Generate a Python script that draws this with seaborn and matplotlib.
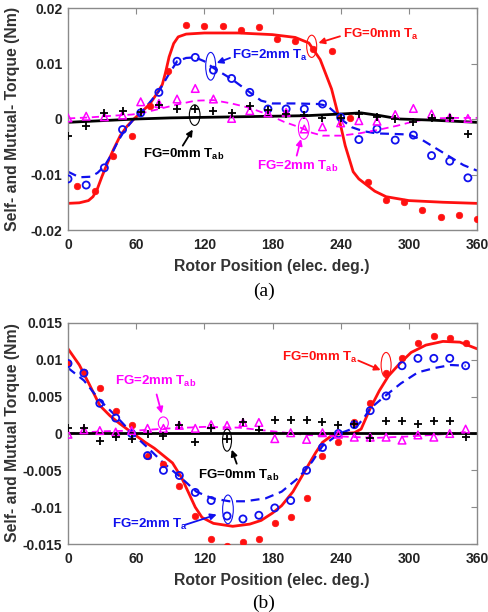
"""
Self- and mutual-torque vs rotor position, FG=0mm and FG=2mm.
Two stacked panels: (a) and (b).
"""

import matplotlib
matplotlib.use("Agg")
import matplotlib.pyplot as plt
from matplotlib.patches import Ellipse
from matplotlib.ticker import FixedLocator, FixedFormatter
import seaborn as sns

# ---------------- panel (a): measured points ----------------
A_POS_EVEN = [0, 16, 32, 48, 64, 80, 96, 112, 128, 144, 160, 176, 192, 208, 224,
              240, 256, 272, 288, 304, 320, 336, 352]
A_POS_ODD = [8, 24, 40, 56, 72, 88, 104, 120, 136, 152, 168, 184, 200, 216, 232,
             248, 264, 280, 296, 312, 328, 344, 360]
A_TA0_MEAS = [-0.0120, -0.0130, -0.0066, -0.0030, 0.0024, 0.0087, 0.0170, 0.0168,
              0.0168, 0.0161, 0.0165, 0.0144, 0.0140, 0.0126, 0.0122, 0.0001,
              -0.0114, -0.0146, -0.0150, -0.0164, -0.0177, -0.0173, -0.0180]
A_TA2_MEAS = [-0.0108, -0.0119, -0.0088, -0.0019, 0.0011, 0.0048, 0.0104, 0.0111,
              0.0088, 0.0073, 0.0048, 0.0018, 0.0018, 0.0018, 0.0027, 0.0003,
              -0.0037, -0.0018, -0.0038, -0.0029, -0.0066, -0.0076, -0.0106]
A_TAB2_MEAS = [0.0002, 0.0005, 0.0004, 0.0007, 0.0031, 0.0028, 0.0036, 0.0055,
               0.0036, 0.0001, 0.0015, 0.0011, 0.0012, -0.0018, -0.0014, -0.0007,
               -0.0003, -0.0004, 0.0008, 0.0019, 0.0009, 0.0003, 0.0001]
A_TAB0_MEAS = [-0.0030, -0.0012, 0.0011, 0.0014, 0.0012, 0.0025, 0.0018, 0.0018,
               0.0015, 0.0010, 0.0023, 0.0016, 0.0009, 0.0008, 0.0001, 0.0002,
               0.0009, 0.0003, 0.0000, -0.0006, 0.0001, 0.0002, -0.0027]

# ---------------- panel (a): simulated curves ----------------
A_TA0_X = [0, 10, 18, 22, 26, 30, 35, 40, 46, 52, 58, 65, 72, 78, 83, 86, 89, 93,
           97, 104, 120, 150, 180, 200, 212, 222, 232, 238, 244, 251, 256, 263,
           270, 280, 300, 330, 360]
A_TA0_Y = [-0.0152, -0.0151, -0.0147, -0.0140, -0.0125, -0.0103, -0.0078, -0.0055,
           -0.0030, -0.0013, 0.0000, 0.0013, 0.0027, 0.0045, 0.0062, 0.0085, 0.0112,
           0.0136, 0.0148, 0.0153, 0.0155, 0.0155, 0.0152, 0.0147, 0.0137, 0.0107,
           0.0054, 0.0006, -0.0048, -0.0095, -0.0108, -0.0119, -0.0130, -0.0140,
           -0.0147, -0.0150, -0.0152]
A_TA2_X = [0, 10, 20, 26, 32, 38, 44, 50, 58, 66, 74, 80, 88, 96, 104, 112, 120,
           128, 144, 160, 170, 180, 200, 220, 228, 236, 242, 250, 260, 272, 288,
           300, 312, 324, 336, 348, 360]
A_TA2_Y = [-0.0095, -0.0105, -0.0104, -0.0097, -0.0085, -0.0065, -0.0040, -0.0020,
           0.0000, 0.0015, 0.0035, 0.0050, 0.0078, 0.0104, 0.0110, 0.0111, 0.0104,
           0.0092, 0.0072, 0.0048, 0.0033, 0.0028, 0.0028, 0.0027, 0.0024, 0.0010,
           -0.0003, -0.0015, -0.0022, -0.0026, -0.0027, -0.0028, -0.0038, -0.0053,
           -0.0068, -0.0083, -0.0093]
A_TAB2_X = [0, 20, 40, 56, 64, 80, 96, 112, 128, 144, 160, 176, 190, 204, 215, 224,
            240, 256, 272, 290, 305, 320, 340, 360]
A_TAB2_Y = [0.0001, 0.0003, 0.0006, 0.0008, 0.0010, 0.0018, 0.0026, 0.0033, 0.0034,
            0.0028, 0.0020, 0.0008, -0.0005, -0.0015, -0.0025, -0.0030, -0.0030,
            -0.0026, -0.0020, -0.0012, -0.0004, 0.0001, 0.0002, 0.0002]
A_TAB0_X = [0, 30, 60, 90, 120, 150, 180, 210, 240, 258, 275, 292, 320, 360]
A_TAB0_Y = [-0.0006, -0.0003, 0.0000, 0.0002, 0.0003, 0.0004, 0.0005, 0.0006,
            0.0009, 0.0011, 0.0006, 0.0000, -0.0002, -0.0006]

# ---------------- panel (b): measured points ----------------
B_POS = [0, 14, 28, 42, 56, 70, 84, 98, 112, 126, 140, 154, 168, 182, 196, 210,
         224, 238, 252, 266, 280, 294, 308, 322, 336, 350]
B_TA0_MEAS = [0.0096, 0.0083, 0.0062, 0.0031, 0.0012, -0.0030, -0.0041, -0.0071,
              -0.0112, -0.0143, -0.0153, -0.0147, -0.0143, -0.0121, -0.0114, -0.0087,
              -0.0031, -0.0011, 0.0016, 0.0042, 0.0082, 0.0102, 0.0123, 0.0133,
              0.0129, 0.0123]
B_TA2_MEAS = [0.0095, 0.0082, 0.0041, 0.0021, 0.0000, -0.0030, -0.0050, -0.0057,
              -0.0080, -0.0091, -0.0112, -0.0116, -0.0111, -0.0101, -0.0091, -0.0050,
              -0.0019, 0.0000, 0.0012, 0.0031, 0.0051, 0.0092, 0.0102, 0.0102,
              0.0102, 0.0092]
B_TAB0_MEAS = [0.0008, 0.0007, -0.0010, -0.0005, -0.0008, 0.0000, -0.0004, 0.0012,
               -0.0012, 0.0007, -0.0008, 0.0016, 0.0005, 0.0019, 0.0018, 0.0018,
               0.0016, 0.0011, 0.0013, -0.0006, 0.0017, 0.0017, 0.0013, 0.0017,
               0.0017, -0.0005]
B_TAB2_MEAS = [-0.0001, 0.0005, 0.0004, 0.0002, 0.0004, 0.0007, 0.0007, 0.0011,
               0.0007, 0.0012, 0.0011, 0.0015, 0.0015, -0.0007, 0.0001, -0.0008,
               0.0001, -0.0001, -0.0005, -0.0005, -0.0005, -0.0009, -0.0002, -0.0005,
               0.0000, 0.0006]

# ---------------- panel (b): simulated curves ----------------
B_TA0_X = [0, 10, 19, 28, 37, 45, 52, 60, 68, 76, 84, 92, 100, 106, 112, 118, 128,
           145, 160, 170, 180, 188, 198, 210, 218, 224, 232, 240, 252, 258, 266,
           274, 282, 292, 302, 315, 330, 345, 360]
B_TA0_Y = [0.0115, 0.0093, 0.0066, 0.0038, 0.0024, 0.0014, 0.0006, -0.0003, -0.0012,
           -0.0020, -0.0030, -0.0040, -0.0060, -0.0080, -0.0100, -0.0114, -0.0122,
           -0.0126, -0.0123, -0.0118, -0.0108, -0.0098, -0.0079, -0.0047, -0.0026,
           -0.0012, -0.0003, 0.0000, 0.0001, 0.0006, 0.0034, 0.0058, 0.0078, 0.0095,
           0.0110, 0.0120, 0.0125, 0.0124, 0.0115]
B_TA2_X = [0, 14, 28, 42, 56, 70, 84, 98, 113, 127, 142, 156, 174, 188, 203, 215,
           224, 231, 239, 253, 260, 266, 280, 293, 308, 323, 337, 350]
B_TA2_Y = [0.0089, 0.0072, 0.0045, 0.0024, 0.0001, -0.0019, -0.0040, -0.0058,
           -0.0079, -0.0088, -0.0092, -0.0092, -0.0088, -0.0079, -0.0060, -0.0038,
           -0.0017, -0.0009, 0.0000, 0.0008, 0.0020, 0.0034, 0.0052, 0.0068, 0.0083,
           0.0089, 0.0093, 0.0092]
B_TAB2_X = [0, 30, 60, 90, 120, 150, 180, 210, 240, 270, 300, 330, 350]
B_TAB2_Y = [0.0000, 0.0003, 0.0004, 0.0007, 0.0009, 0.0008, 0.0003, -0.0002,
            -0.0004, -0.0006, -0.0004, -0.0001, 0.0002]
B_TAB0_X = [0, 60, 120, 180, 240, 300, 360]
B_TAB0_Y = [0.0001, 0.0001, 0.0001, 0.0001, 0.0001, 0.0001, 0.0001]

# ---------------- axis ticks ----------------
X_TICKS = [0, 60, 120, 180, 240, 300, 360]
A_Y_TICKS = [-0.02, -0.01, 0, 0.01, 0.02]
A_Y_LABELS = ["-0.02", "-0.01", "0", "0.01", "0.02"]
B_Y_TICKS = [-0.015, -0.01, -0.005, 0, 0.005, 0.01, 0.015]
B_Y_LABELS = ["-0.015", "-0.01", "-0.005", "0", "0.005", "0.01", "0.015"]

RED = "#ff1010"
BLUE = "#1010ee"
MAGENTA = "#ff00ff"
BLACK = "#000000"
FRAME = "#8a8a8a"

W, H = 488, 612

sns.set_theme(style="white")
plt.rcParams["font.family"] = ["Liberation Sans", "DejaVu Sans"]
plt.rcParams["font.weight"] = "bold"
plt.rcParams["mathtext.fontset"] = "custom"
plt.rcParams["mathtext.bf"] = "Liberation Sans:bold"
plt.rcParams["mathtext.rm"] = "Liberation Sans:bold"


def px_rect(left, top, right, bottom):
    return [left / W, 1 - bottom / H, (right - left) / W, (bottom - top) / H]


def style_axes(ax, yticks, ylabels, ylim):
    ax.set_xlim(0, 360)
    ax.set_ylim(*ylim)
    ax.xaxis.set_major_locator(FixedLocator(X_TICKS))
    ax.xaxis.set_major_formatter(FixedFormatter([str(t) for t in X_TICKS]))
    ax.yaxis.set_major_locator(FixedLocator(yticks))
    ax.yaxis.set_major_formatter(FixedFormatter(ylabels))
    ax.tick_params(axis="both", direction="in", length=4, width=0.8, color=FRAME,
                   labelsize=10, top=True, right=True, labelcolor="#222222")
    ax.tick_params(axis="x", pad=6)
    ax.tick_params(axis="y", pad=4)
    for lab in ax.get_xticklabels() + ax.get_yticklabels():
        lab.set_fontweight("bold")
    for sp in ax.spines.values():
        sp.set_color(FRAME)
        sp.set_linewidth(1.0)
        sp.set_visible(True)
    ax.set_xlabel("")
    ax.set_ylabel("")
    ax.grid(False)


def draw_markers(ax, xs, ys, kind, color):
    if kind == "dot":
        sns.scatterplot(x=xs, y=ys, ax=ax, marker="o", s=22, color=color,
                        edgecolor=color, linewidth=0.5, zorder=3)
    elif kind == "circle":
        sns.scatterplot(x=xs, y=ys, ax=ax, marker="o", s=26, facecolors="none",
                        edgecolor=color, linewidth=1.3, zorder=4)
    elif kind == "tri":
        sns.scatterplot(x=xs, y=ys, ax=ax, marker="^", s=30, facecolors="none",
                        edgecolor=color, linewidth=1.1, zorder=4)
    else:
        sns.scatterplot(x=xs, y=ys, ax=ax, marker="+", s=34, color=color,
                        linewidth=1.3, zorder=4)


def draw_curve(ax, xs, ys, color, dashed, lw):
    ls = (0, (4, 2.6)) if dashed else "-"
    sns.lineplot(x=xs, y=ys, ax=ax, color=color, linewidth=lw, linestyle=ls,
                 errorbar=None, sort=False, zorder=2)


def note(ax, label, text_xy, tail, tip, center, size, color):
    ax.text(text_xy[0], text_xy[1], label, color=color, fontsize=9.5,
            fontweight="bold", ha="left", va="baseline", zorder=6)
    ax.annotate("", xy=tip, xytext=tail,
                arrowprops=dict(arrowstyle="-|>", color=color, lw=1.3,
                                mutation_scale=9, shrinkA=0, shrinkB=0), zorder=6)
    ax.add_patch(Ellipse(center, size[0], size[1], fill=False, edgecolor=color,
                         linewidth=0.8, zorder=6))


fig = plt.figure(figsize=(W / 100, H / 100), dpi=100)
fig.patch.set_facecolor("white")

# ---------------- panel (a) ----------------
ax1 = fig.add_axes(px_rect(68, 8, 477, 230))
draw_markers(ax1, A_POS_ODD, A_TA0_MEAS, "dot", RED)
draw_markers(ax1, A_POS_EVEN, A_TA2_MEAS, "circle", BLUE)
draw_markers(ax1, A_POS_EVEN, A_TAB2_MEAS, "tri", MAGENTA)
draw_markers(ax1, A_POS_EVEN, A_TAB0_MEAS, "plus", BLACK)
draw_curve(ax1, A_TA0_X, A_TA0_Y, RED, False, 2.0)
draw_curve(ax1, A_TA2_X, A_TA2_Y, BLUE, True, 1.6)
draw_curve(ax1, A_TAB2_X, A_TAB2_Y, MAGENTA, True, 1.3)
draw_curve(ax1, A_TAB0_X, A_TAB0_Y, BLACK, False, 2.0)
style_axes(ax1, A_Y_TICKS, A_Y_LABELS, (-0.02, 0.02))

note(ax1, r"FG=0mm T$_\mathbf{a}$", (242, 0.0147), (239.4, 0.0149), (220.4, 0.0137),
     (214.5, 0.0131), (8.8, 0.0040), RED)
note(ax1, r"FG=2mm T$_\mathbf{a}$", (144, 0.0108), (142.6, 0.0110), (130.9, 0.0101),
     (125.6, 0.0095), (8.8, 0.0050), BLUE)
note(ax1, r"FG=0mm T$_\mathbf{ab}$", (66, -0.0070), (101, -0.0048), (109.8, -0.0019),
     (111.5, 0.0007), (9.4, 0.0037), BLACK)
note(ax1, r"FG=2mm T$_\mathbf{ab}$", (166, -0.0091), (201.3, -0.0066), (205.1, -0.0036),
     (207.5, -0.0017), (9.4, 0.0039), MAGENTA)

# ---------------- panel (b) ----------------
ax2 = fig.add_axes(px_rect(68, 323, 477, 544))
draw_markers(ax2, B_POS, B_TA0_MEAS, "dot", RED)
draw_markers(ax2, B_POS, B_TA2_MEAS, "circle", BLUE)
draw_markers(ax2, B_POS, B_TAB2_MEAS, "tri", MAGENTA)
draw_markers(ax2, B_POS, B_TAB0_MEAS, "plus", BLACK)
draw_curve(ax2, B_TA0_X, B_TA0_Y, RED, False, 2.0)
draw_curve(ax2, B_TA2_X, B_TA2_Y, BLUE, True, 1.6)
draw_curve(ax2, B_TAB2_X, B_TAB2_Y, MAGENTA, True, 1.3)
draw_curve(ax2, B_TAB0_X, B_TAB0_Y, BLACK, False, 2.0)
style_axes(ax2, B_Y_TICKS, B_Y_LABELS, (-0.015, 0.015))

note(ax2, r"FG=0mm T$_\mathbf{a}$", (188, 0.0099), (255.5, 0.0099), (275.2, 0.0086),
     (280, 0.0093), (8.8, 0.0034), RED)
note(ax2, r"FG=2mm T$_\mathbf{ab}$", (41.4, 0.0066), (78, 0.0053), (82.5, 0.0027),
     (83.9, 0.0014), (8.8, 0.0017), MAGENTA)
note(ax2, r"FG=0mm T$_\mathbf{ab}$", (114.7, -0.0062), (148.5, -0.0041), (144.1, -0.0022),
     (140, -0.0009), (7.9, 0.0030), BLACK)
note(ax2, r"FG=2mm T$_\mathbf{a}$", (38.5, -0.0128), (103, -0.0124), (130.9, -0.0110),
     (140.8, -0.0103), (9.4, 0.0039), BLUE)

# ---------------- labels ----------------
lab_kw = dict(fontsize=11.3, fontweight="bold", color="#333333", ha="center", va="center")
fig.text(272 / W, 1 - 267 / H, "Rotor Position (elec. deg.)", **lab_kw)
fig.text(272 / W, 1 - 580 / H, "Rotor Position (elec. deg.)", **lab_kw)
fig.text(13 / W, 1 - 119 / H, "Self- and Mutual- Torque (Nm)", rotation=90, **lab_kw)
fig.text(13 / W, 1 - 433 / H, "Self- and Mutual Torque (Nm)", rotation=90, **lab_kw)
cap_kw = dict(fontsize=14, family=["Liberation Serif", "DejaVu Serif"],
              fontweight="normal", ha="center", va="center", color="black")
fig.text(264 / W, 1 - 291 / H, "(a)", **cap_kw)
fig.text(264 / W, 1 - 603 / H, "(b)", **cap_kw)

fig.savefig("out.png", dpi=100, facecolor="white")
plt.close(fig)
